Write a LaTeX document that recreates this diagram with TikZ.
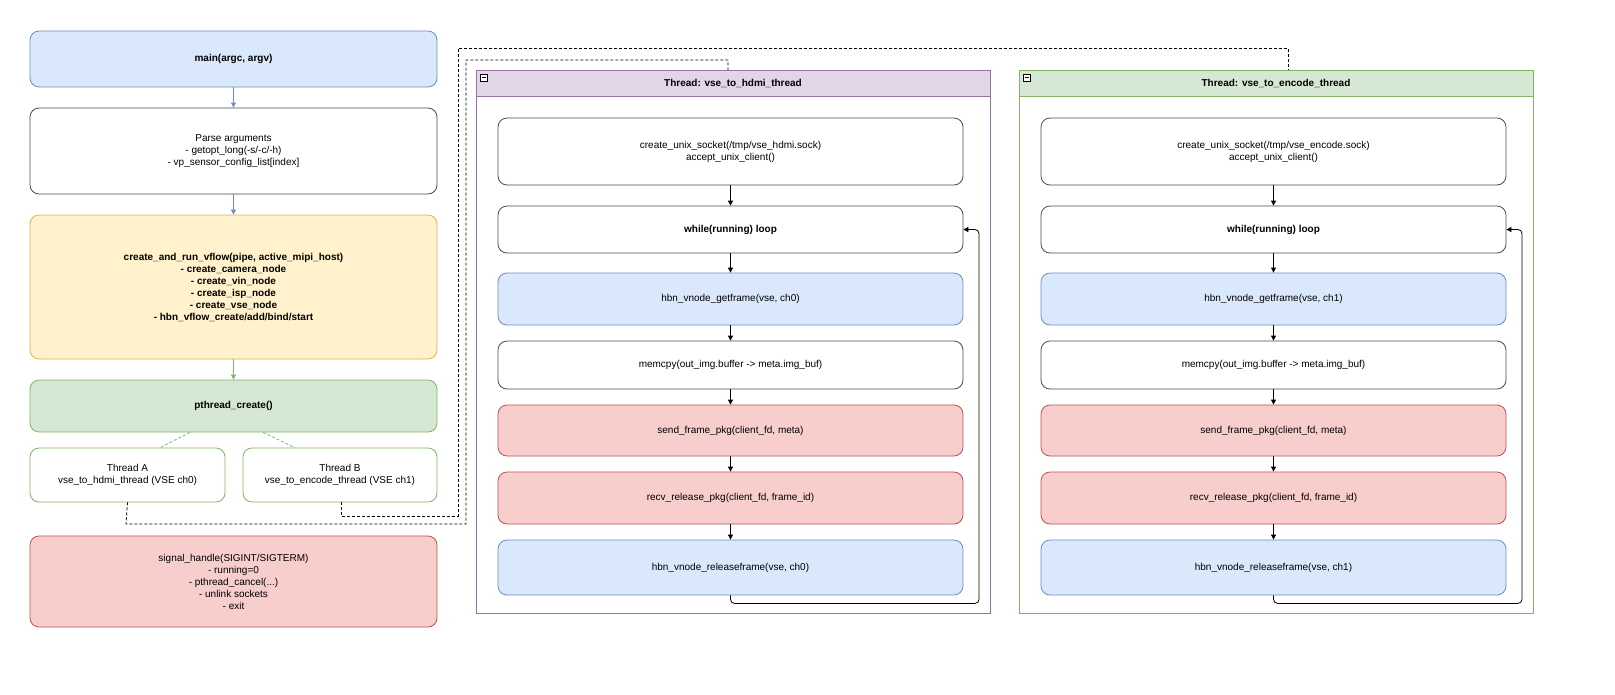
\documentclass[tikz,border=0pt]{standalone}
\usepackage{fontspec}
\setmainfont{Liberation Sans}
\usetikzlibrary{arrows.meta,calc}
\definecolor{bF}{HTML}{DAE8FC}\definecolor{bS}{HTML}{6C8EBF}
\definecolor{yF}{HTML}{FFF2CC}\definecolor{yS}{HTML}{D6B656}
\definecolor{gF}{HTML}{D5E8D4}\definecolor{gS}{HTML}{82B366}
\definecolor{rF}{HTML}{F8CECC}\definecolor{rS}{HTML}{B85450}
\definecolor{pF}{HTML}{E1D5E7}\definecolor{pS}{HTML}{9673A6}
\begin{document}
\begin{tikzpicture}[x=1pt,y=-1pt,font=\fontsize{10}{12}\selectfont,
 box/.style={draw=#1,rounded corners=9pt,line width=0.8pt,align=center,inner sep=0},
 bx/.style args={#1/#2/#3/#4}{box, minimum width=#3pt, minimum height=#4pt},
 arr/.style={-{Triangle[length=5pt,width=5pt]},line width=0.8pt},
 dsh/.style={dashed,line width=0.8pt,dash pattern=on 3pt off 2pt}]
\useasboundingbox (0,0) rectangle (1615,694);
% left column
\node[box=bS,fill=bF,minimum width=407pt,minimum height=56pt] (main) at (233.5,59) {\textbf{main(argc, argv)}};
\node[box=black!70,fill=white,minimum width=407pt,minimum height=86pt] (parse) at (233.5,151) {Parse arguments\\- getopt\_long(-s/-c/-h)\\- vp\_sensor\_config\_list[index]};
\node[box=yS,fill=yF,minimum width=407pt,minimum height=144pt] (crt) at (233.5,287) {\bfseries create\_and\_run\_vflow(pipe, active\_mipi\_host)\\\bfseries - create\_camera\_node\\\bfseries - create\_vin\_node\\\bfseries - create\_isp\_node\\\bfseries - create\_vse\_node\\\bfseries - hbn\_vflow\_create/add/bind/start};
\node[box=gS,fill=gF,minimum width=407pt,minimum height=52pt] (pth) at (233.5,406) {\textbf{pthread\_create()}};
\node[box=gS,fill=white,minimum width=195pt,minimum height=54pt] (ta) at (127.5,475) {Thread A\\vse\_to\_hdmi\_thread (VSE ch0)};
\node[box=gS,fill=white,minimum width=194pt,minimum height=54pt] (tb) at (340,475) {Thread B\\vse\_to\_encode\_thread (VSE ch1)};
\node[box=rS,fill=rF,minimum width=407pt,minimum height=91pt] (sig) at (233.5,581.5) {signal\_handle(SIGINT/SIGTERM)\\- running=0\\- pthread\_cancel(...)\\- unlink sockets\\- exit};
\draw[arr,draw=bS,fill=bS] (main) -- (parse);
\draw[arr,draw=bS,fill=bS] (parse) -- (crt);
\draw[arr,draw=gS,fill=gS] (crt) -- (pth);
\draw[dsh,draw=gS] (pth.south -| 190,0) -- (ta.north -| 160,0);
\draw[dsh,draw=gS] (pth.south -| 263,0) -- (tb.north -| 295,0);
% containers
\foreach \n/\x/\hf/\hs/\t/\c in {h/476/pF/pS/vse\_to\_hdmi\_thread/0, e/1019/gF/gS/vse\_to\_encode\_thread/1}{
 \draw[draw=\hs,line width=0.8pt,fill=white] (\x,70) rectangle ++(514,543);
 \draw[draw=\hs,line width=0.8pt,fill=\hf] (\x,70) rectangle ++(514,26);
 \node (\n hd) at (\x+257,83) {\textbf{Thread: \t}};
 \draw[line width=0.5pt,fill=white] (\x+4,74) rectangle ++(7,7);
 \draw[line width=0.5pt] (\x+5.5,77.5) -- ++(4,0);
 \pgfmathsetmacro{\cx}{\x+254.5}
 \node[box=black!70,fill=white,minimum width=465pt,minimum height=67pt] (\n1) at (\cx,151.5) {create\_unix\_socket(/tmp/vse\_\ifnum\c=0 hdmi\else encode\fi.sock)\\accept\_unix\_client()};
 \node[box=black!70,fill=white,minimum width=465pt,minimum height=47pt] (\n2) at (\cx,229.5) {\textbf{while(running) loop}};
 \node[box=bS,fill=bF,minimum width=465pt,minimum height=52pt] (\n3) at (\cx,299) {hbn\_vnode\_getframe(vse, ch\c)};
 \node[box=black!70,fill=white,minimum width=465pt,minimum height=48pt] (\n4) at (\cx,365) {memcpy(out\_img.buffer -> meta.img\_buf)};
 \node[box=rS,fill=rF,minimum width=465pt,minimum height=51pt] (\n5) at (\cx,430.5) {send\_frame\_pkg(client\_fd, meta)};
 \node[box=rS,fill=rF,minimum width=465pt,minimum height=52pt] (\n6) at (\cx,498) {recv\_release\_pkg(client\_fd, frame\_id)};
 \node[box=bS,fill=bF,minimum width=465pt,minimum height=55pt] (\n7) at (\cx,567.5) {hbn\_vnode\_releaseframe(vse, ch\c)};
 \foreach \a/\b in {1/2,2/3,3/4,4/5,5/6,6/7}{\draw[arr] (\n\a) -- (\n\b);}
 \draw[arr,rounded corners=4pt] (\n7.south) -- ++(0,8) -| (\x+503,229.5) -- (\n2.east);
}
% dashed links
\draw[dsh] (ta.south) -- (126,524) -- (466,524) -- (466,60) -- (728,60) -- (728,70);
\draw[dsh] (tb.south -| 341,0) -- (341,516) -- (458,516) -- (458,48) -- (1288,48) -- (1288,70);
\end{tikzpicture}
\end{document}
